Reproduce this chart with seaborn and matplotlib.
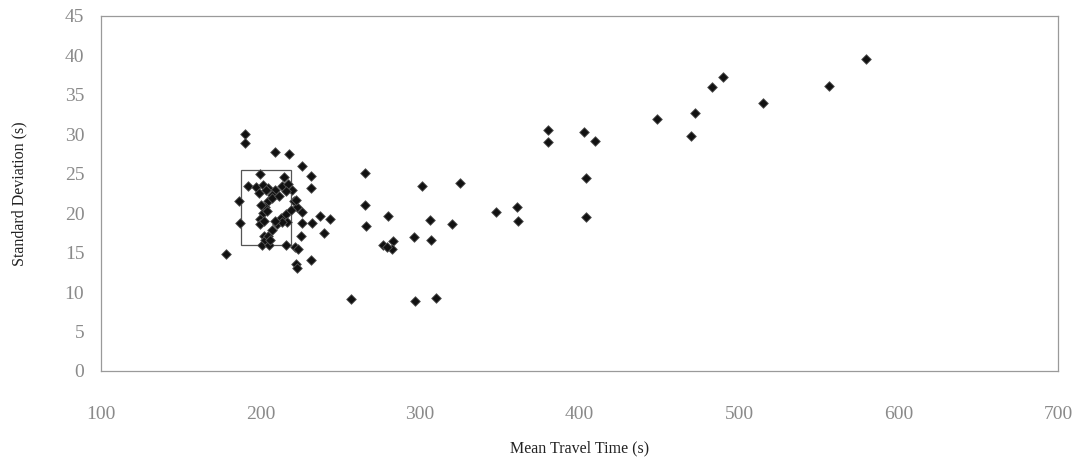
import matplotlib
matplotlib.use("Agg")
import matplotlib.pyplot as plt
import matplotlib.patches as mpatches
import seaborn as sns
import pandas as pd

# ---- data ----
mean_travel_time = [
    178.3, 186.4, 187.0, 190.6, 190.6, 192.0, 199.6, 201.0, 202.0, 203.0, 205.2,
    209.4, 217.8, 214.7, 220.0, 221.0, 223.0, 226.0, 225.8, 225.8, 225.5, 215.7,
    222.0, 221.4, 223.5, 222.6, 231.4, 231.8, 231.8, 232.4, 237.0, 243.4, 239.8,
    196.9, 201.3, 205.0, 209.4, 213.8, 217.0, 215.7, 207.5, 205.0, 203.1, 201.3,
    199.4, 200.0, 212.6, 215.7, 210.1, 207.5, 205.0, 216.4, 218.9, 222.0,
    199.0, 203.5, 207.0, 211.5, 204.0, 202.0, 200.5, 213.5, 209.0, 206.0,
    256.6, 265.4, 265.4, 266.0, 276.9, 282.8, 282.2, 279.2, 280.1, 296.0, 296.9,
    301.1, 306.1, 307.1, 310.3, 320.3, 325.0, 347.6, 360.8, 361.6, 380.5, 380.5,
    403.1, 409.6, 404.0, 403.8, 448.6, 470.0, 472.3, 483.2, 489.7, 515.3, 556.6,
    579.9,
]
std_deviation = [
    14.8, 21.5, 18.8, 30.0, 28.9, 23.4, 25.0, 16.0, 17.1, 16.6, 16.0,
    27.8, 27.5, 24.6, 23.0, 21.5, 20.8, 20.2, 26.0, 18.7, 17.1, 16.0,
    13.6, 15.7, 15.5, 13.1, 14.1, 24.7, 23.2, 18.8, 19.7, 19.3, 17.5,
    23.3, 23.6, 23.2, 22.9, 23.4, 23.7, 22.8, 22.3, 21.5, 20.8, 20.0,
    19.3, 18.6, 19.4, 19.9, 18.6, 17.9, 17.1, 18.9, 20.4, 21.7,
    22.6, 22.9, 21.9, 22.2, 20.3, 19.0, 21.0, 18.9, 19.0, 16.6,
    9.1, 25.1, 21.0, 18.4, 16.0, 16.5, 15.5, 15.7, 19.7, 17.0, 8.9,
    23.4, 19.2, 16.6, 9.2, 18.6, 23.8, 20.1, 20.8, 19.0, 30.5, 29.0,
    30.3, 29.2, 24.5, 19.5, 32.0, 29.8, 32.7, 36.0, 37.3, 34.0, 36.1,
    39.5,
]
x_ticks = [100, 200, 300, 400, 500, 600, 700]
y_ticks = [0, 5, 10, 15, 20, 25, 30, 35, 40, 45]
box_x = [188, 219]
box_y = [16.0, 25.5]
x_label = "Mean Travel Time (s)"
y_label = "Standard Deviation (s)"

df = pd.DataFrame({"mtt": mean_travel_time, "sd": std_deviation})

sns.set_style("white")
plt.rcParams["font.family"] = ["Liberation Serif", "DejaVu Serif"]

fig = plt.figure(figsize=(10.79, 4.65), dpi=100)
ax = fig.add_axes([0.0936, 0.2022, 0.8869, 0.7634])

sns.scatterplot(data=df, x="mtt", y="sd", ax=ax, marker="D", s=24,
                color="#111111", edgecolor="#555555", linewidth=0.6, zorder=3)

ax.add_patch(mpatches.Rectangle((box_x[0], box_y[0]), box_x[1] - box_x[0],
                                box_y[1] - box_y[0], fill=False,
                                edgecolor="#555555", linewidth=0.9, zorder=2))

ax.set_xlim(x_ticks[0], x_ticks[-1])
ax.set_ylim(y_ticks[0], y_ticks[-1])
ax.set_xticks(x_ticks)
ax.set_yticks(y_ticks)
ax.set_xticklabels([str(v) for v in x_ticks])
ax.set_yticklabels([str(v) for v in y_ticks])

ax.tick_params(axis="x", direction="in", length=4, width=0.8, color="#777777",
               pad=25, labelsize=14, labelcolor="#8a8a8a")
ax.tick_params(axis="y", direction="in", length=4, width=0.8, color="#777777",
               pad=12, labelsize=14, labelcolor="#8a8a8a")
for sp in ax.spines.values():
    sp.set_visible(True)
    sp.set_color("#9a9a9a")
    sp.set_linewidth(0.9)

ax.set_xlabel(x_label, fontsize=11.5, color="#222222", labelpad=13)
ax.set_ylabel(y_label, fontsize=11.5, color="#222222", labelpad=27)
ax.grid(False)

fig.savefig("out.png", dpi=100)
